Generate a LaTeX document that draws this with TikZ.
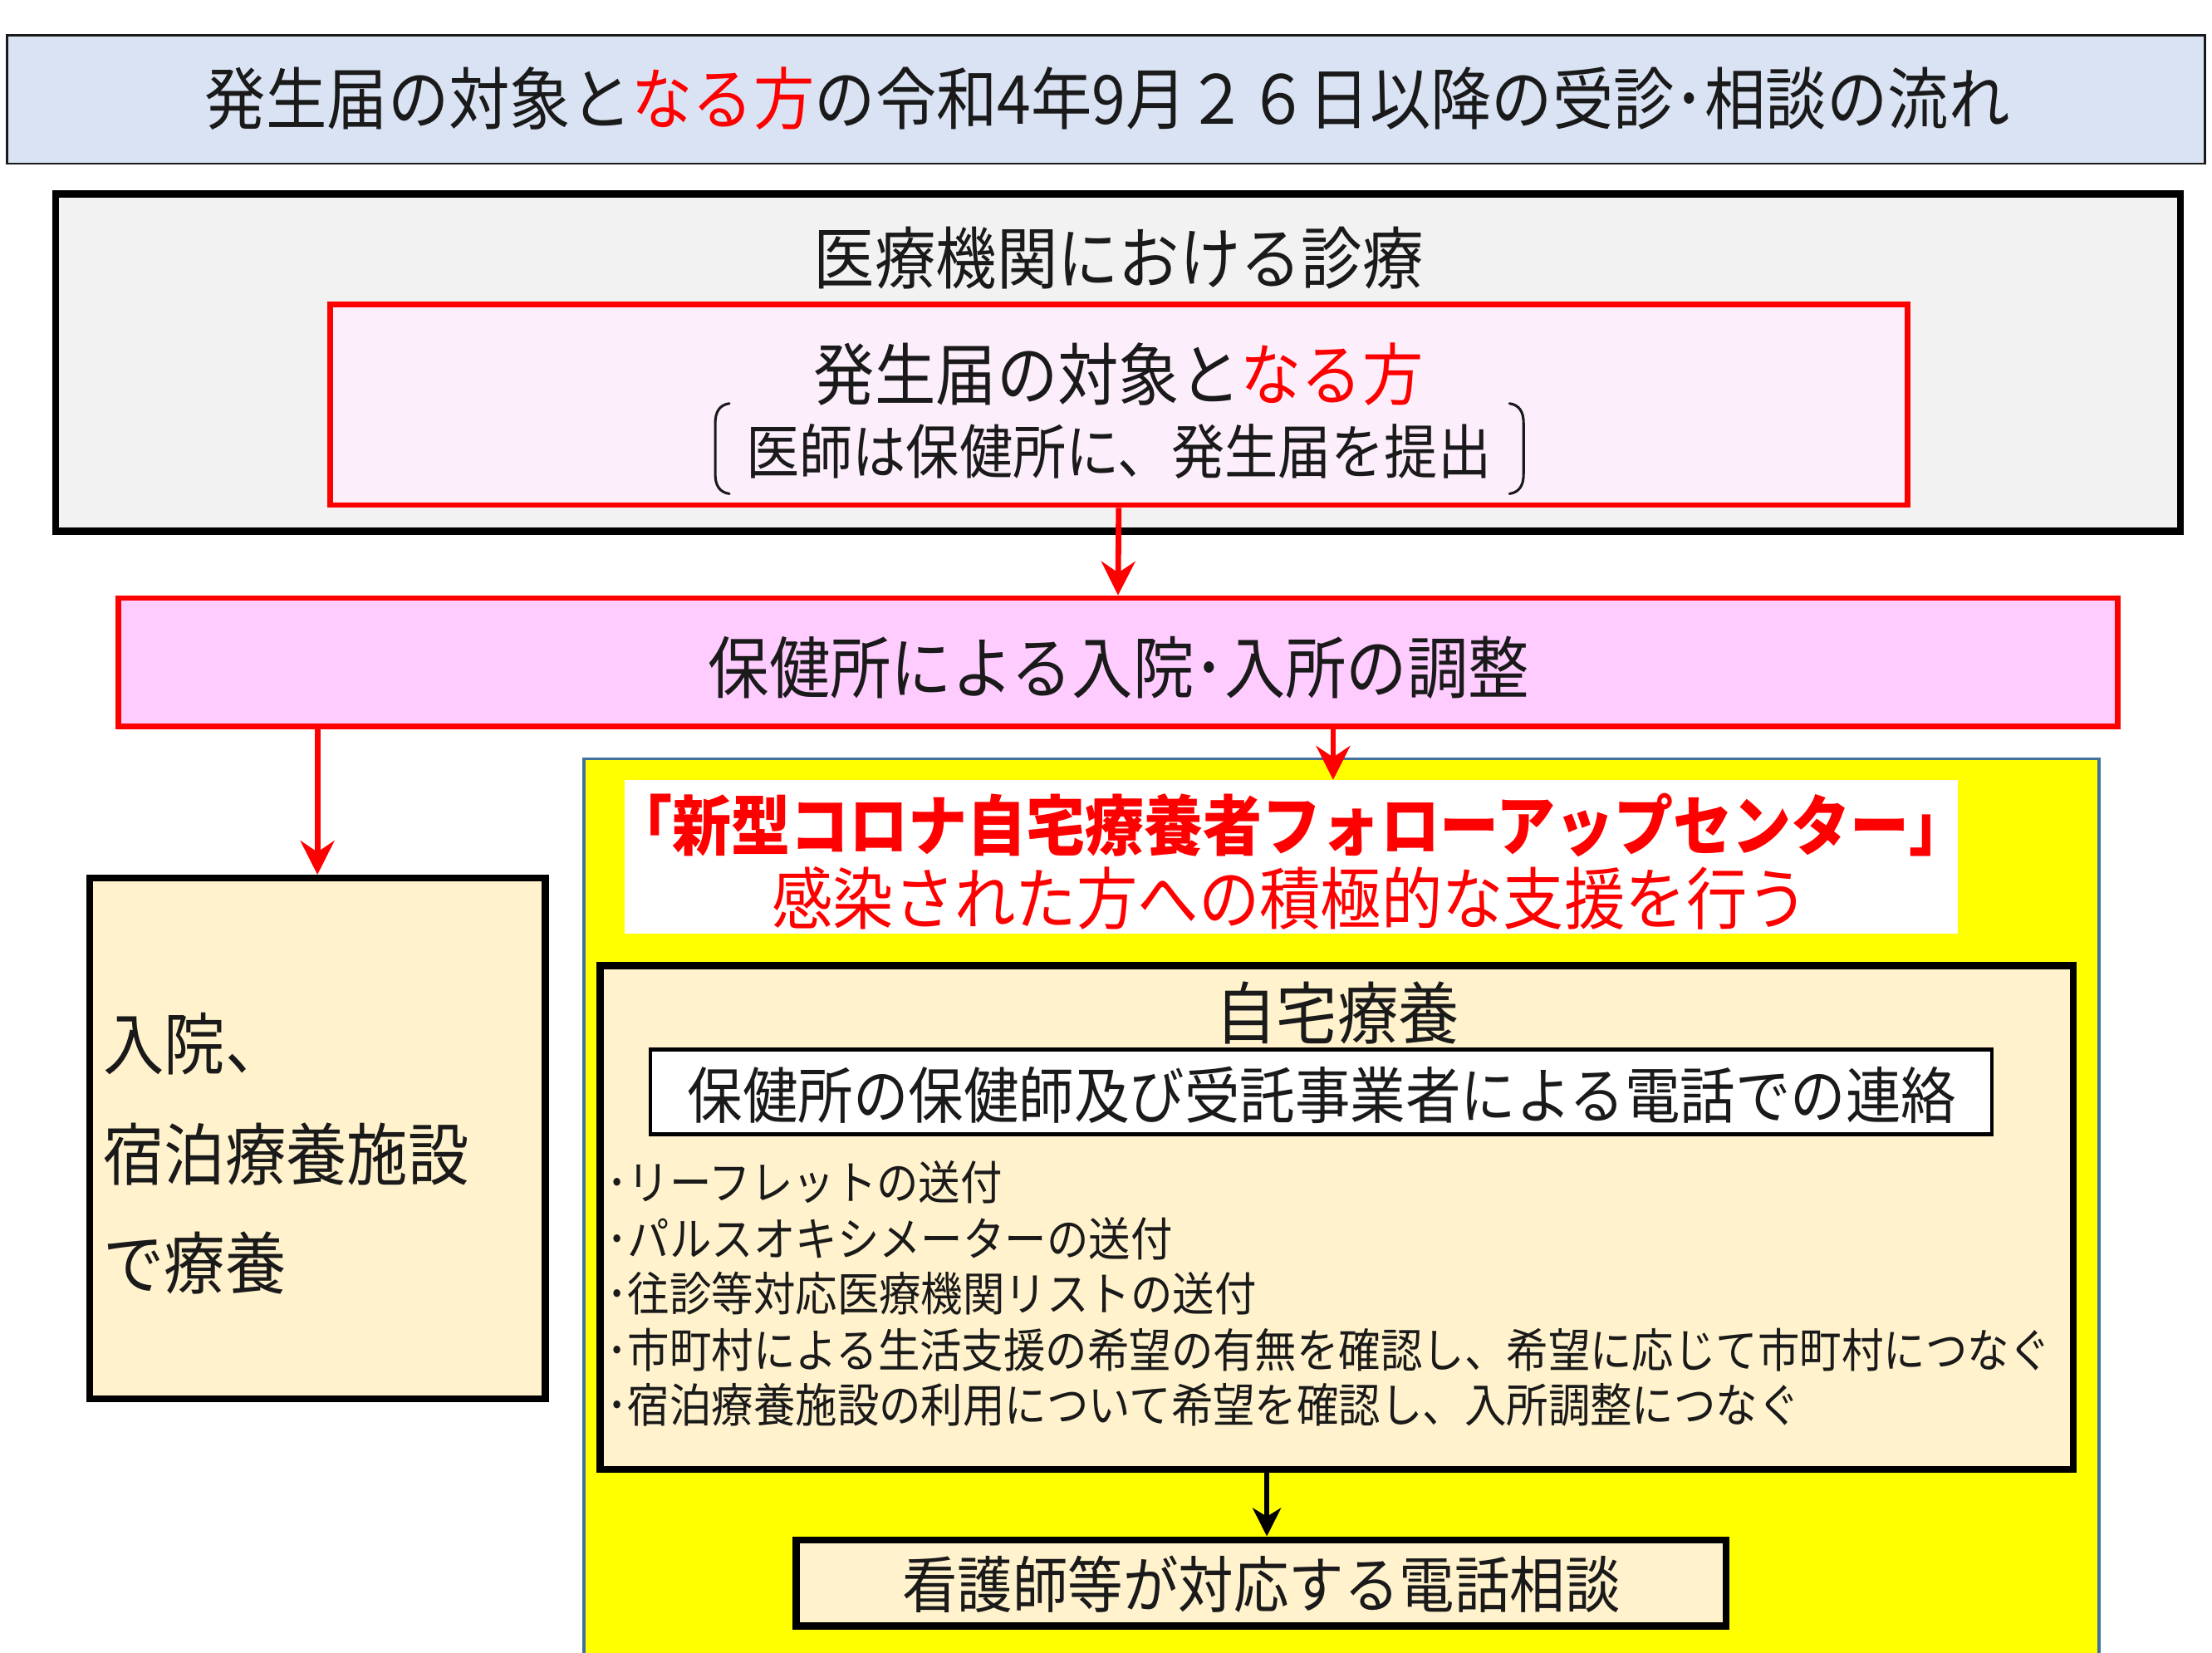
\documentclass[tikz,border=0pt]{standalone}
\usepackage{fontspec}
\newfontfamily\jp[FakeStretch=0.9]{Noto Sans CJK JP}
\usetikzlibrary{arrows.meta}
\definecolor{titlebg}{HTML}{DAE3F3}
\definecolor{graybg}{HTML}{F2F2F2}
\definecolor{lpink}{HTML}{FCEEFB}
\definecolor{mpink}{HTML}{FFCCFF}
\definecolor{cream}{HTML}{FFF2CC}
\definecolor{yel}{HTML}{FFFF00}
\definecolor{steel}{HTML}{41719C}
\definecolor{rd}{HTML}{FF0000}
\definecolor{ink}{HTML}{1A1A1A}
\begin{document}
\begin{tikzpicture}[x=1pt,y=-1pt,
  every node/.style={font=\jp, text=ink, inner sep=0pt},
  plainbox/.style={rectangle, inner sep=0pt},
  blackbox/.style={plainbox, draw=black, line width=5pt, fill=cream},
  redbox/.style={plainbox, draw=rd, line width=4pt},
  redarrow/.style={draw=rd, line width=4pt, -{Stealth[length=24pt,width=24pt,inset=8pt]}},
  blackarrow/.style={draw=black, line width=3.5pt, -{Stealth[length=20pt,width=20pt,inset=6pt]}},
  bracketline/.style={draw=ink, line width=1.8pt, line cap=round},
  t48/.style={font=\jp\fontsize{48}{53}\selectfont},
  t44/.style={font=\jp\fontsize{43.5}{48}\selectfont},
  t42/.style={font=\jp\fontsize{42}{47}\selectfont},
  t33/.style={font=\jp\fontsize{33}{37}\selectfont, anchor=west},
]
\useasboundingbox (0,0) rectangle (1568,1171.7);
\fill[white] (0,0) rectangle (1568,1171.7);

% title
\node[plainbox, draw=ink, line width=1.5pt, fill=titlebg, minimum width=1558pt, minimum height=91pt] (title) at (784,70.5) {};
\node[t48] (titletext) at (785,70) {発生届の対象と\textcolor{rd}{なる方}の令和4年9月２６日以降の受診･相談の流れ};

% medical institutions
\node[plainbox, draw=black, line width=5pt, fill=graybg, minimum width=1506pt, minimum height=239pt] (clinic) at (792.5,257) {};
\node[t48] (clinictext) at (793,183) {医療機関における診療};
\node[redbox, fill=lpink, minimum width=1118pt, minimum height=142pt] (notify) at (793,287) {};
\node[t48] (notifytext) at (793,265) {発生届の対象と\textcolor{rd}{なる方}};
\node[t42] (doctortext) at (793,320) {医師は保健所に、発生届を提出};
\draw[bracketline] (517,286) .. controls (510,287) and (507,292) .. (507,300) -- (507,336) .. controls (507,344) and (510,349) .. (517,350);
\draw[bracketline] (1070,286) .. controls (1077,287) and (1080,292) .. (1080,300) -- (1080,336) .. controls (1080,344) and (1077,349) .. (1070,350);

% adjustment
\node[redbox, fill=mpink, minimum width=1417pt, minimum height=91pt] (adjust) at (792.5,469.5) {};
\node[t48] (adjusttext) at (793,473) {保健所による入院･入所の調整};

% left box
\node[blackbox, minimum width=323pt, minimum height=369pt] (hosp) at (225,807) {};
\node[t48, anchor=west] (hosp1) at (73,740) {入院、};
\node[t48, anchor=west] (hosp2) at (73,818) {宿泊療養施設};
\node[t48, anchor=west] (hosp3) at (73,895) {で療養};

% yellow follow-up centre
\node[plainbox, draw=steel, line width=2pt, fill=yel, minimum width=1074pt, minimum height=662pt] (center) at (951,869) {};
\node[plainbox, fill=white, minimum width=945pt, minimum height=109pt] (banner) at (915.5,607.5) {};
\node[font=\jp\fontsize{46.5}{51}\selectfont, text=rd] (banner1) at (915,585) {\bfseries 「新型コロナ自宅療養者フォローアップセンター」};
\node[t48, text=rd] (banner2) at (914.5,637) {感染された方への積極的な支援を行う};

% home care
\node[blackbox, minimum width=1044pt, minimum height=357pt] (home) at (947.5,863) {};
\node[t48] (hometext) at (948,718) {自宅療養};
\node[plainbox, draw=black, line width=2.5pt, fill=white, minimum width=951pt, minimum height=60pt] (phone) at (936.5,774) {};
\node[t44] (phonetext) at (937,776) {保健所の保健師及び受託事業者による電話での連絡};
\node[t33] (b1) at (430,838) {･リーフレットの送付};
\node[t33] (b2) at (430,878) {･パルスオキシメーターの送付};
\node[t33] (b3) at (430,917) {･往診等対応医療機関リストの送付};
\node[t33] (b4) at (430,957) {･市町村による生活支援の希望の有無を確認し、希望に応じて市町村につなぐ};
\node[t33] (b5) at (430,996) {･宿泊療養施設の利用について希望を確認し、入所調整につなぐ};

% nurse consultation
\node[blackbox, minimum width=659pt, minimum height=61pt] (nurse) at (894,1122) {};
\node[t44] (nursetext) at (894,1123) {看護師等が対応する電話相談};

% connectors
\coordinate (xr) at (945,0);
\coordinate (xb) at (898,0);
\draw[redarrow] (notify.south) -- (adjust.north);
\draw[redarrow] (adjust.south -| hosp.north) -- (hosp.north);
\draw[redarrow] (adjust.south -| xr) -- (banner.north -| xr);
\draw[blackarrow] (home.south -| xb) -- (nurse.north -| xb);
\end{tikzpicture}
\end{document}
